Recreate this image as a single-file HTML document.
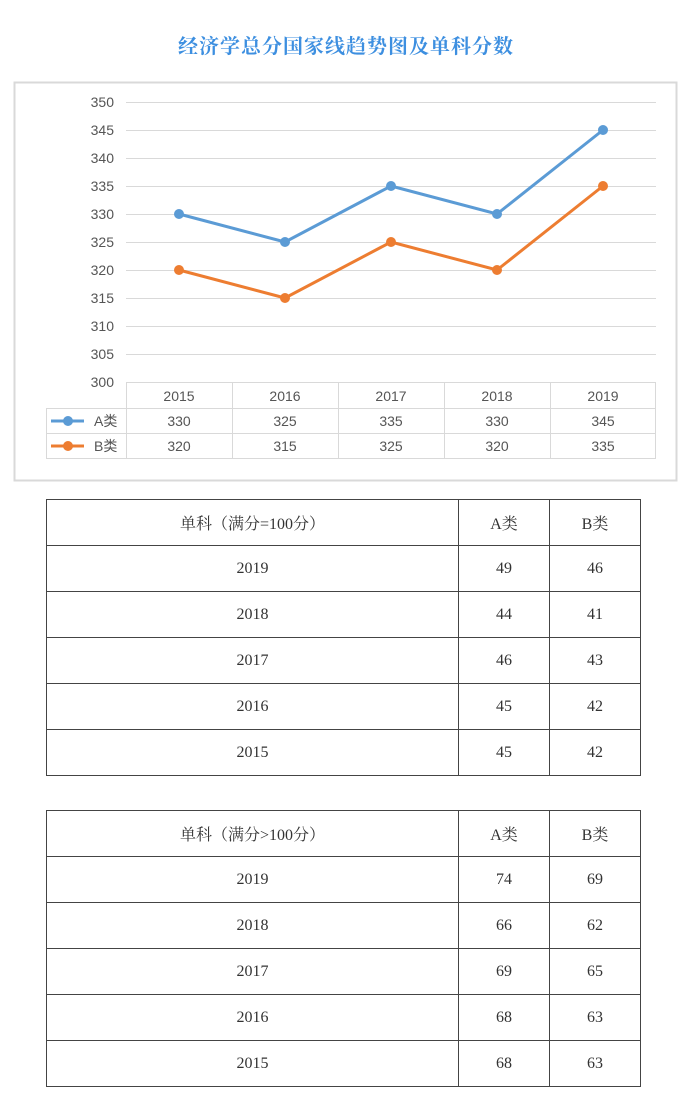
<!DOCTYPE html>
<html><head><meta charset="utf-8"><style>
body{margin:0;width:692px;height:1101px;background:#fff;position:relative;overflow:hidden}
.t{position:absolute;left:0;width:692px;top:30px;text-align:center;font:bold 20px "Noto Serif CJK SC",serif;color:#3d8fe0;letter-spacing:1px}
table{position:absolute;left:46px;width:595px;border-collapse:collapse;font:16px "Liberation Serif","Noto Serif CJK SC",serif;color:#333}
td{border:1px solid #444;height:45px;text-align:center;padding:0}
</style></head><body>
<div class="t">经济学总分国家线趋势图及单科分数</div>
<svg style="position:absolute;left:0;top:0" width="692" height="490" font-family="Liberation Sans,Noto Sans CJK SC,sans-serif" font-size="14" fill="#555">
<rect x="14.5" y="82.5" width="662" height="398" fill="#fff" stroke="#d9d9d9" stroke-width="2"/>
<g stroke="#d9d9d9" stroke-width="1">
<line x1="126" x2="656" y1="102.5" y2="102.5"/><line x1="126" x2="656" y1="130.5" y2="130.5"/><line x1="126" x2="656" y1="158.5" y2="158.5"/><line x1="126" x2="656" y1="186.5" y2="186.5"/><line x1="126" x2="656" y1="214.5" y2="214.5"/><line x1="126" x2="656" y1="242.5" y2="242.5"/><line x1="126" x2="656" y1="270.5" y2="270.5"/><line x1="126" x2="656" y1="298.5" y2="298.5"/><line x1="126" x2="656" y1="326.5" y2="326.5"/><line x1="126" x2="656" y1="354.5" y2="354.5"/>
<rect x="126.5" y="382.5" width="529" height="76" fill="none"/>
<line x1="46.5" x2="126" y1="408.5" y2="408.5"/><line x1="46.5" x2="656" y1="408.5" y2="408.5"/><line x1="46.5" x2="656" y1="433.5" y2="433.5"/><line x1="46.5" x2="126" y1="458.5" y2="458.5"/>
<line x1="46.5" x2="46.5" y1="408" y2="459"/>
<line x1="232.5" x2="232.5" y1="382" y2="459"/><line x1="338.5" x2="338.5" y1="382" y2="459"/><line x1="444.5" x2="444.5" y1="382" y2="459"/><line x1="550.5" x2="550.5" y1="382" y2="459"/>
</g>
<g text-anchor="end"><text x="114" y="107">350</text><text x="114" y="135">345</text><text x="114" y="163">340</text><text x="114" y="191">335</text><text x="114" y="219">330</text><text x="114" y="247">325</text><text x="114" y="275">320</text><text x="114" y="303">315</text><text x="114" y="331">310</text><text x="114" y="359">305</text><text x="114" y="387">300</text></g>
<g text-anchor="middle">
<text x="179" y="401">2015</text><text x="285" y="401">2016</text><text x="391" y="401">2017</text><text x="497" y="401">2018</text><text x="603" y="401">2019</text>
<text x="179" y="426">330</text><text x="285" y="426">325</text><text x="391" y="426">335</text><text x="497" y="426">330</text><text x="603" y="426">345</text>
<text x="179" y="451">320</text><text x="285" y="451">315</text><text x="391" y="451">325</text><text x="497" y="451">320</text><text x="603" y="451">335</text>
</g>
<line x1="51" x2="84" y1="421" y2="421" stroke="#5b9bd5" stroke-width="3"/><circle cx="68" cy="421" r="5" fill="#5b9bd5"/>
<text x="94" y="426">A类</text>
<line x1="51" x2="84" y1="446" y2="446" stroke="#ed7d31" stroke-width="3"/><circle cx="68" cy="446" r="5" fill="#ed7d31"/>
<text x="94" y="451">B类</text>
<polyline points="179,214 285,242 391,186 497,214 603,130" fill="none" stroke="#5b9bd5" stroke-width="3"/>
<g fill="#5b9bd5"><circle cx="179" cy="214" r="5"/><circle cx="285" cy="242" r="5"/><circle cx="391" cy="186" r="5"/><circle cx="497" cy="214" r="5"/><circle cx="603" cy="130" r="5"/></g>
<polyline points="179,270 285,298 391,242 497,270 603,186" fill="none" stroke="#ed7d31" stroke-width="3"/>
<g fill="#ed7d31"><circle cx="179" cy="270" r="5"/><circle cx="285" cy="298" r="5"/><circle cx="391" cy="242" r="5"/><circle cx="497" cy="270" r="5"/><circle cx="603" cy="186" r="5"/></g>
</svg>
<table style="top:499px"><colgroup><col style="width:412px"><col style="width:91px"><col></colgroup>
<tr><td>单科（满分=100分）</td><td>A类</td><td>B类</td></tr>
<tr><td>2019</td><td>49</td><td>46</td></tr>
<tr><td>2018</td><td>44</td><td>41</td></tr>
<tr><td>2017</td><td>46</td><td>43</td></tr>
<tr><td>2016</td><td>45</td><td>42</td></tr>
<tr><td>2015</td><td>45</td><td>42</td></tr>
</table>
<table style="top:810px"><colgroup><col style="width:412px"><col style="width:91px"><col></colgroup>
<tr><td>单科（满分&gt;100分）</td><td>A类</td><td>B类</td></tr>
<tr><td>2019</td><td>74</td><td>69</td></tr>
<tr><td>2018</td><td>66</td><td>62</td></tr>
<tr><td>2017</td><td>69</td><td>65</td></tr>
<tr><td>2016</td><td>68</td><td>63</td></tr>
<tr><td>2015</td><td>68</td><td>63</td></tr>
</table>
</body></html>
